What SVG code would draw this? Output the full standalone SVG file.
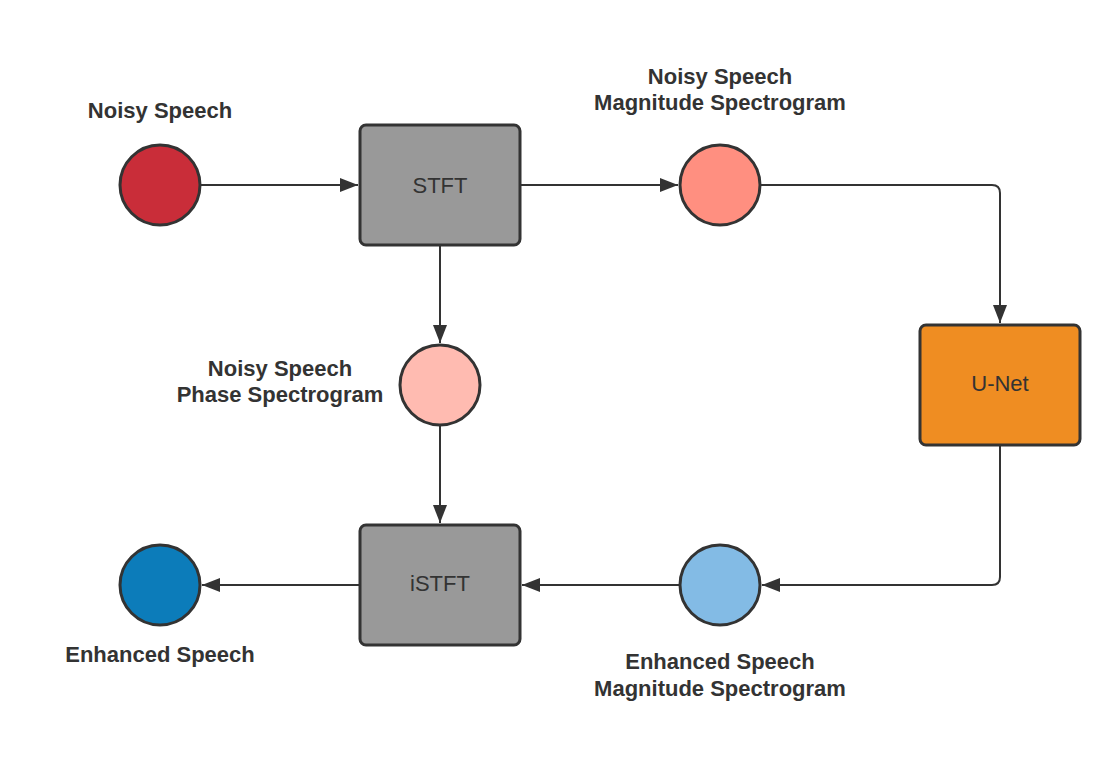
<svg xmlns="http://www.w3.org/2000/svg" width="1120" height="770" viewBox="0 0 1120 770">
<style>
.node circle, .node rect { stroke: #333333; stroke-width: 3; }
.box { font-family: "Liberation Sans", Arial, sans-serif; font-size: 22px; fill: #333333; text-anchor: middle; }
.lbl { font-family: "Liberation Sans", Arial, sans-serif; font-size: 22px; font-weight: bold; fill: #333333; text-anchor: middle; }
.conn path { fill: none; stroke: #333333; stroke-width: 2; }
</style>
<defs>
<marker id="arrow" markerUnits="userSpaceOnUse" markerWidth="20" markerHeight="14" refX="18" refY="7" orient="auto">
<path d="M0,0 L18,7 L0,14 Z" fill="#333333"/>
</marker>
</defs>
<rect width="1120" height="770" fill="#ffffff"/>
<g id="connectors" class="conn">
<path d="M200,185 H358" marker-end="url(#arrow)"/>
<path d="M520,185 H678" marker-end="url(#arrow)"/>
<path d="M760,185 H992 Q1000,185 1000,193 V323" marker-end="url(#arrow)"/>
<path d="M440,245 V343" marker-end="url(#arrow)"/>
<path d="M440,425 V523" marker-end="url(#arrow)"/>
<path d="M1000,445 V577 Q1000,585 992,585 H762" marker-end="url(#arrow)"/>
<path d="M680,585 H522" marker-end="url(#arrow)"/>
<path d="M360,585 H202" marker-end="url(#arrow)"/>
</g>
<g id="noisy-speech" class="node">
<circle cx="160" cy="185" r="40" fill="#C92D39"/>
<text class="lbl" x="160" y="118">Noisy Speech</text>
</g>
<g id="stft" class="node">
<rect x="360" y="125" width="160" height="120" rx="6" fill="#999999"/>
<text class="box" x="440" y="193">STFT</text>
</g>
<g id="noisy-magnitude" class="node">
<circle cx="720" cy="185" r="40" fill="#FF8F80"/>
<text class="lbl" x="720" y="84">Noisy Speech</text>
<text class="lbl" x="720" y="110">Magnitude Spectrogram</text>
</g>
<g id="unet" class="node">
<rect x="920" y="325" width="160" height="120" rx="6" fill="#EF8D22"/>
<text class="box" x="1000" y="391">U-Net</text>
</g>
<g id="noisy-phase" class="node">
<circle cx="440" cy="385" r="40" fill="#FFBBB1"/>
<text class="lbl" x="280" y="376">Noisy Speech</text>
<text class="lbl" x="280" y="402">Phase Spectrogram</text>
</g>
<g id="istft" class="node">
<rect x="360" y="525" width="160" height="120" rx="6" fill="#999999"/>
<text class="box" x="440" y="591">iSTFT</text>
</g>
<g id="enhanced-magnitude" class="node">
<circle cx="720" cy="585" r="40" fill="#83BBE5"/>
<text class="lbl" x="720" y="669">Enhanced Speech</text>
<text class="lbl" x="720" y="696">Magnitude Spectrogram</text>
</g>
<g id="enhanced-speech" class="node">
<circle cx="160" cy="585" r="40" fill="#0C7CBA"/>
<text class="lbl" x="160" y="662">Enhanced Speech</text>
</g>
</svg>
